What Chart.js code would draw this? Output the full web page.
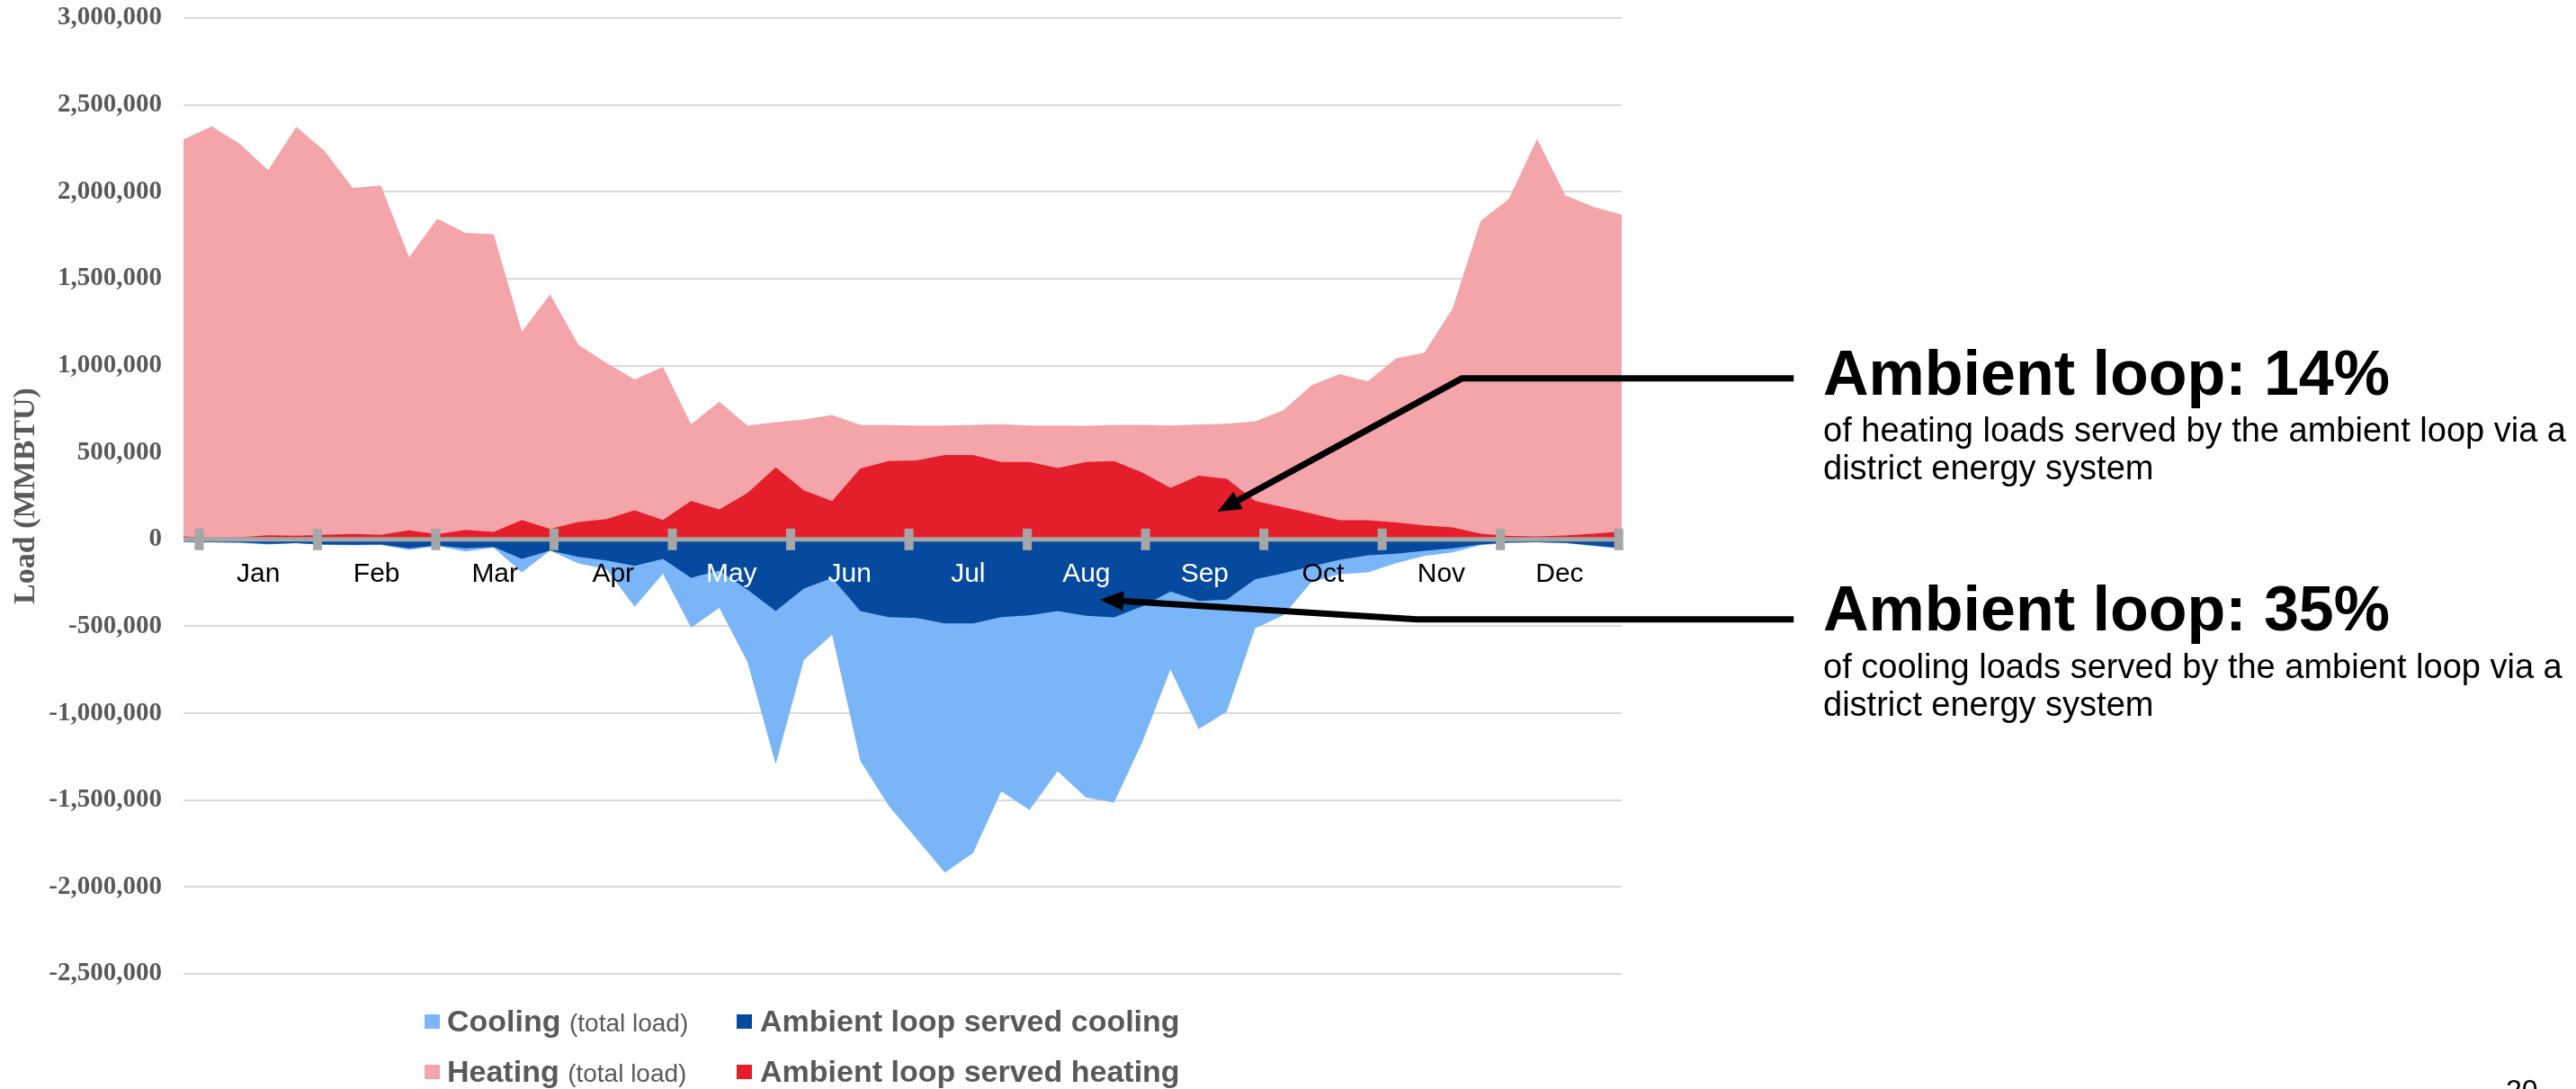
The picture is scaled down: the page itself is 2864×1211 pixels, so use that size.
<!DOCTYPE html>
<html lang="en">
<head>
<meta charset="utf-8">
<title>Ambient loop heating and cooling loads</title>
<script src="https://cdn.jsdelivr.net/npm/chart.js@4.4.1/dist/chart.umd.min.js"></script>
<style>
    html, body { margin: 0; padding: 0; background: #fff; }
    body {
        position: relative;
        width: 2864px;
        height: 1211px;
        overflow: hidden;
        font-family: "Liberation Sans", Arial, sans-serif;
    }
    #chartWrap { position: absolute; left: 0; top: 0; width: 2864px; height: 1211px; }
    .swatch { position: absolute; width: 17px; height: 16px; }
    .legend-item {
        position: absolute;
        white-space: nowrap;
        font-size: 34px;
        line-height: 40px;
        font-weight: bold;
        color: #595959;
    }
    .legend-item .note { font-size: 28px; font-weight: normal; }
    .callout-title {
        position: absolute;
        left: 2027px;
        font-size: 70px;
        line-height: 70px;
        font-weight: bold;
        color: #000;
        white-space: nowrap;
    }
    .callout-text {
        position: absolute;
        left: 2027px;
        font-size: 38px;
        line-height: 41.7px;
        color: #000;
        white-space: nowrap;
    }
    .page-num { position: absolute; left: 2786px; top: 1194px; font-size: 32px; line-height: 36px; color: #000; }
</style>
</head>
<body>
<div id="chartWrap"><canvas id="loadChart" width="2864" height="1211"></canvas></div>

<!-- leyenda -->
<div class="swatch" style="left:472px;top:1128px;background:#7AB5F8"></div>
<div class="legend-item" style="left:497px;top:1115px">Cooling <span class="note">(total load)</span></div>
<div class="swatch" style="left:819px;top:1128px;background:#054A9E"></div>
<div class="legend-item" style="left:845px;top:1115px">Ambient loop served cooling</div>
<div class="swatch" style="left:472px;top:1184px;background:#F4A5AA"></div>
<div class="legend-item" style="left:497px;top:1171px">Heating <span class="note">(total load)</span></div>
<div class="swatch" style="left:819px;top:1184px;background:#E41E2A"></div>
<div class="legend-item" style="left:845px;top:1171px">Ambient loop served heating</div>

<!-- notas de la derecha -->
<div class="callout-title" style="top:380px">Ambient loop: 14%</div>
<div class="callout-text" style="top:458px">of heating loads served by the ambient loop via a<br>district energy system</div>
<div class="callout-title" style="top:642px">Ambient loop: 35%</div>
<div class="callout-text" style="top:721px">of cooling loads served by the ambient loop via a<br>district energy system</div>

<div class="page-num">20</div>

<script>
// Semanas del año (52 puntos)
const weeks = Array.from({ length: 52 }, (_, i) => 'Week ' + (i + 1));

const months = ['Jan', 'Feb', 'Mar', 'Apr', 'May', 'Jun', 'Jul', 'Aug', 'Sep', 'Oct', 'Nov', 'Dec'];
const monthLabelColors = ['#000', '#000', '#000', '#000', '#fff', '#fff', '#fff', '#fff', '#fff', '#000', '#000', '#000'];
// limites de mes en unidades de semana
const monthTickStart = 0.555;
const monthTickStep = 4.195;

const yTicks = [-2500000, -2000000, -1500000, -1000000, -500000, 0, 500000, 1000000, 1500000, 2000000, 2500000, 3000000];

// Cargas (MMBTU)
const heatingTotal = [
    2302000, 2376000, 2276000, 2124000, 2374000, 2236000, 2022000, 2036000, 1624000, 1845000,
    1764000, 1755000, 1196000, 1410000, 1121000, 1015000, 920000, 993000, 663000, 792000,
    655000, 674000, 690000, 716000, 659000, 657000, 655000, 655000, 659000, 663000,
    655000, 655000, 653000, 659000, 659000, 655000, 661000, 665000, 680000, 743000,
    886000, 951000, 910000, 1041000, 1074000, 1327000, 1833000, 1959000, 2306000, 1980000,
    1914000, 1870000
];
const heatingServed = [
    17000, 10000, 12000, 24000, 21000, 26000, 31000, 26000, 52000, 30000,
    55000, 43000, 112000, 60000, 100000, 117000, 167000, 112000, 221000, 173000,
    267000, 414000, 282000, 220000, 408000, 451000, 455000, 486000, 486000, 445000,
    445000, 410000, 445000, 451000, 384000, 297000, 367000, 348000, 221000, 185000,
    149000, 110000, 110000, 98000, 80000, 69000, 33000, 20000, 17000, 22000,
    33000, 45000
];
const coolingTotal = [
    -17000, -18000, -20000, -29000, -22000, -32000, -34000, -32000, -60000, -38000,
    -69000, -48000, -190000, -64000, -138000, -172000, -388000, -198000, -508000, -394000,
    -706000, -1295000, -694000, -548000, -1274000, -1531000, -1724000, -1918000, -1804000, -1450000,
    -1557000, -1334000, -1484000, -1514000, -1166000, -748000, -1091000, -990000, -512000, -437000,
    -245000, -200000, -190000, -137000, -96000, -75000, -33000, -20000, -17000, -22000,
    -38000, -55000
];
const coolingServed = [
    -14000, -16000, -18000, -26000, -21000, -29000, -31000, -29000, -52000, -34000,
    -52000, -43000, -112000, -64000, -100000, -121000, -152000, -112000, -221000, -179000,
    -290000, -412000, -283000, -222000, -412000, -447000, -452000, -484000, -484000, -447000,
    -437000, -412000, -440000, -448000, -385000, -300000, -354000, -346000, -230000, -195000,
    -155000, -118000, -92000, -83000, -66000, -52000, -30000, -18000, -16000, -20000,
    -35000, -50000
];

// Flechas de las notas: [semana, valor]
const callouts = [
    { from: [57.1, 926000], elbow: [45.33, 926000], tip: [36.67, 160000] },
    { from: [57.1, -460000], elbow: [43.74, -460000], tip: [32.5, -346000] }
];

// Eje de meses sobre el cero, marcas y flechas
const monthAxis = {
    id: 'monthAxis',
    afterDatasetsDraw(chart) {
        const ctx = chart.ctx;
        const x = chart.scales.x;
        const y = chart.scales.y;
        const area = chart.chartArea;
        const y0 = y.getPixelForValue(0);

        ctx.save();
        ctx.fillStyle = '#A6A6A6';
        ctx.fillRect(area.left, y0 - 2.5, area.right - area.left, 5);

        const edges = [];
        for (let k = 0; k <= months.length; k++) {
            edges.push(monthTickStart + k * monthTickStep);
        }
        edges.forEach(v => {
            const px = x.getPixelForValue(v);
            ctx.fillRect(px - 5, y0 - 12, 10, 24);
        });

        ctx.font = '30px "Liberation Sans", Arial, sans-serif';
        ctx.textAlign = 'center';
        ctx.textBaseline = 'alphabetic';
        months.forEach((m, k) => {
            ctx.fillStyle = monthLabelColors[k];
            const px = x.getPixelForValue((edges[k] + edges[k + 1]) / 2);
            ctx.fillText(m, px, y0 + 47);
        });

        // flechas
        ctx.strokeStyle = '#000';
        ctx.fillStyle = '#000';
        ctx.lineWidth = 7;
        ctx.lineJoin = 'miter';
        callouts.forEach(c => {
            const p0 = [x.getPixelForValue(c.from[0]), y.getPixelForValue(c.from[1])];
            const p1 = [x.getPixelForValue(c.elbow[0]), y.getPixelForValue(c.elbow[1])];
            const p2 = [x.getPixelForValue(c.tip[0]), y.getPixelForValue(c.tip[1])];
            const dx = p2[0] - p1[0];
            const dy = p2[1] - p1[1];
            const len = Math.hypot(dx, dy);
            const ux = dx / len, uy = dy / len;
            const headLen = 26, headHalf = 11;
            const bx = p2[0] - ux * headLen, by = p2[1] - uy * headLen;

            ctx.beginPath();
            ctx.moveTo(p0[0], p0[1]);
            ctx.lineTo(p1[0], p1[1]);
            ctx.lineTo(bx + ux * 2, by + uy * 2);
            ctx.stroke();

            ctx.beginPath();
            ctx.moveTo(p2[0], p2[1]);
            ctx.lineTo(bx - uy * headHalf, by + ux * headHalf);
            ctx.lineTo(bx + uy * headHalf, by - ux * headHalf);
            ctx.closePath();
            ctx.fill();
        });
        ctx.restore();
    }
};

function areaSet(label, data, color, order) {
    return {
        label: label,
        data: data,
        backgroundColor: color,
        borderColor: color,
        borderWidth: 0,
        pointRadius: 0,
        pointHoverRadius: 0,
        tension: 0,
        fill: 'origin',
        order: order
    };
}

const ctx = document.getElementById('loadChart').getContext('2d');
const loadChart = new Chart(ctx, {
    type: 'line',
    data: {
        labels: weeks,
        datasets: [
            areaSet('Ambient loop served heating', heatingServed, '#E41E2A', 0),
            areaSet('Ambient loop served cooling', coolingServed, '#054A9E', 1),
            areaSet('Heating (total load)', heatingTotal, '#F4A5AA', 2),
            areaSet('Cooling (total load)', coolingTotal, '#7AB5F8', 3)
        ]
    },
    options: {
        responsive: false,
        animation: false,
        devicePixelRatio: 1,
        layout: {
            padding: { left: 0, right: 1061, top: 20, bottom: 128 }
        },
        plugins: {
            legend: { display: false },
            tooltip: { enabled: false },
            title: { display: false }
        },
        scales: {
            x: {
                type: 'category',
                display: false,
                offset: false
            },
            y: {
                min: -2500000,
                max: 3000000,
                afterBuildTicks: scale => {
                    scale.ticks = yTicks.map(v => ({ value: v }));
                },
                afterFit: scale => {
                    // ancho fijo del eje y sin relleno extra arriba/abajo
                    scale.width = 204;
                    scale.paddingTop = 0;
                    scale.paddingBottom = 0;
                },
                border: { display: false },
                grid: {
                    color: '#D9D9D9',
                    lineWidth: 2,
                    drawTicks: false
                },
                ticks: {
                    padding: 24,
                    color: '#595959',
                    font: { family: 'Liberation Serif', size: 29, weight: 'bold' },
                    callback: v => v.toLocaleString('en-US')
                },
                title: {
                    display: true,
                    text: 'Load (MMBTU)',
                    color: '#595959',
                    padding: { top: 9, bottom: 0 },
                    font: { family: 'Liberation Serif', size: 34, weight: 'bold' }
                }
            }
        }
    },
    plugins: [monthAxis]
});
</script>
</body>
</html>
